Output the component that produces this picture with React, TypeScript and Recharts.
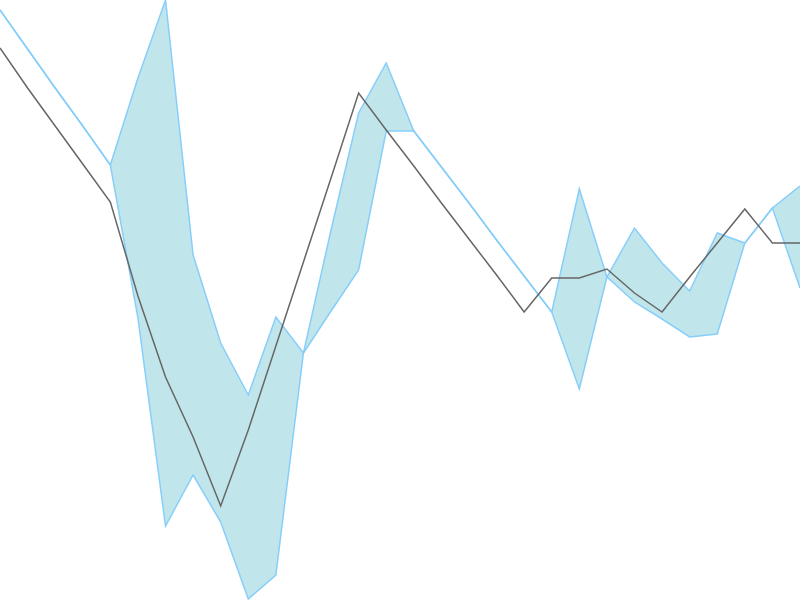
import { ComposedChart, Area, Line, XAxis, YAxis } from "recharts";

// 30 evenly spaced categories, no visible axes
const categories = Array.from({ length: 30 }, (_, i) => `P${i + 1}`);

const bandLow = [
  590, 551, 512, 474, 435, 282, 74, 125, 78, 1,
  25, 247, 289, 330, 469, 469, 433, 397, 360, 324,
  288, 211, 323, 298, 281, 263, 266, 357, 392, 312,
];

const bandHigh = [
  590, 551, 512, 474, 435, 522, 600, 345, 257, 205,
  283, 247, 370, 487, 537, 469, 433, 397, 360, 324,
  288, 411, 323, 372, 337, 309, 367, 357, 392, 414,
];

const lineValues = [
  552, 512, 474, 436, 398, 304, 223, 163, 94, 170,
  254, 338, 422, 507, 470, 434, 397, 361, 325, 288,
  322, 322, 331, 307, 288, 323, 357, 391, 357, 357,
];

const data = categories.map((name, i) => ({
  name,
  band: [bandLow[i], bandHigh[i]],
  value: lineValues[i],
}));

export default function App() {
  return (
    <div style={{ position: "absolute", left: 0, top: 0, width: 800, height: 600, background: "#fff" }}>
      <ComposedChart width={800} height={600} data={data} margin={{ top: 0, right: 0, bottom: 0, left: 0 }}>
        <XAxis dataKey="name" hide scale="point" />
        <YAxis hide domain={[0, 600]} />
        <Area
          type="linear"
          dataKey="band"
          stroke="#87cefa"
          strokeWidth={1.5}
          fill="#b0e0e6"
          fillOpacity={0.8}
          dot={false}
          activeDot={false}
          isAnimationActive={false}
        />
        <Line
          type="linear"
          dataKey="value"
          stroke="#666"
          strokeWidth={1.5}
          dot={false}
          activeDot={false}
          isAnimationActive={false}
        />
      </ComposedChart>
    </div>
  );
}
